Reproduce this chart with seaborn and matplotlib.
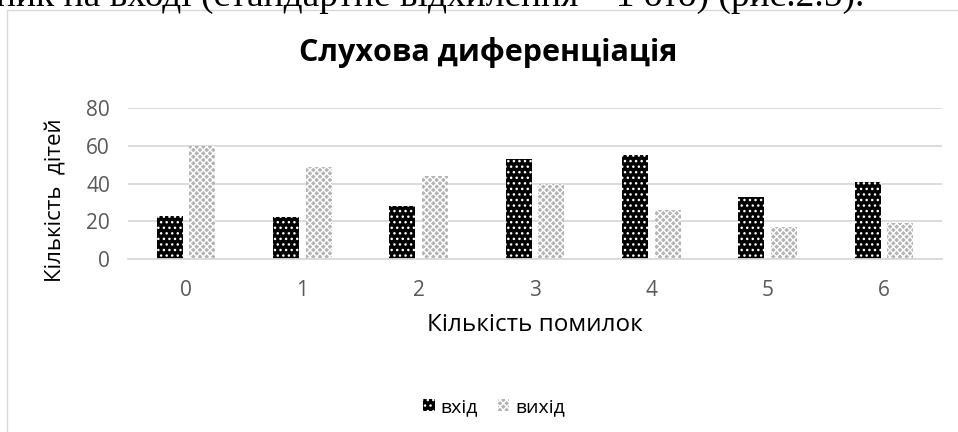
import matplotlib
matplotlib.use("Agg")
import matplotlib.pyplot as plt
from matplotlib.patches import Patch, Rectangle
import seaborn as sns
import pandas as pd

# ---- data ----
categories = ["0", "1", "2", "3", "4", "5", "6"]
vhid = [23, 22, 28, 53, 55, 33, 41]
vyhid = [60, 49, 44, 40, 26, 17, 19]
series_names = ["вхід", "вихід"]
title = "Слухова диференціація"
xlabel = "Кількість помилок"
ylabel = "Кількість  дітей"
yticks = [0, 20, 40, 60, 80]
header_text = "ник на вході (стандартне відхилення – 1 ото) (рис.2.5)."

df = pd.DataFrame({
    "cat": categories * 2,
    "val": vhid + vyhid,
    "series": [series_names[0]] * len(categories) + [series_names[1]] * len(categories),
})

sns.set_theme(style="white")
plt.rcParams["font.family"] = ["Open Sans", "DejaVu Sans"]
plt.rcParams["hatch.linewidth"] = 1.0

W, H = 958, 432
fig = plt.figure(figsize=(W / 100, H / 100), dpi=100)
ax = fig.add_axes([128 / W, 1 - 259 / H, (942 - 128) / W, (259 - 108) / H])

BLACK = "#000000"
GREY = "#b4b4b4"
sns.barplot(data=df, x="cat", y="val", hue="series", order=categories,
            hue_order=series_names, palette=[BLACK, GREY], width=0.56, gap=0.2,
            legend=False, ax=ax, saturation=1)

styles = {0: dict(fc=BLACK, ec="white", hatch="..."),
          1: dict(fc=GREY, ec="white", hatch="xxxxx")}
n = len(categories)
for i, p in enumerate(ax.patches[: 2 * n]):
    s = styles[i // n]
    p.set_facecolor(s["fc"])
    p.set_edgecolor(s["ec"])
    p.set_hatch(s["hatch"])
    p.set_linewidth(0)

ax.set_ylim(0, 80)
ax.set_yticks(yticks)
ax.set_xlim(-0.5, len(categories) - 0.5)
ax.yaxis.grid(True, color="#d9d9d9", linewidth=1.3)
ax.set_axisbelow(True)
for sp in ["top", "right", "left"]:
    ax.spines[sp].set_visible(False)
ax.spines["bottom"].set_color("#d9d9d9")
ax.spines["bottom"].set_linewidth(1.3)
ax.tick_params(axis="both", length=0, labelsize=15, labelcolor="#595959")
ax.tick_params(axis="y", pad=13)
ax.tick_params(axis="x", pad=15)

ax.set_xlabel(xlabel, fontsize=17.5, color="#000000", labelpad=9)
ax.set_ylabel("")
fig.text(56 / W, 1 - 200 / H, ylabel, rotation=90, ha="center", va="center",
         fontsize=16, color="#000000")

fig.text(488 / W, 1 - 53 / H, title, ha="center", va="center", fontsize=22,
         fontweight="bold", color="#000000")

handles = [Patch(facecolor=BLACK, edgecolor="white", hatch="...", linewidth=0),
           Patch(facecolor=GREY, edgecolor="white", hatch="xxxxx", linewidth=0)]
fig.legend(handles, series_names, loc="center", bbox_to_anchor=(494 / W, 1 - 407 / H),
           ncol=2, frameon=False, fontsize=14, handlelength=0.6, handleheight=0.6,
           handletextpad=0.3, columnspacing=1.0, labelcolor="#000000")

# chart area border (partially visible)
fig.add_artist(Rectangle((7 / W, -0.1), 1.2, 1 - 10 / H + 0.1, transform=fig.transFigure,
                         fill=False, edgecolor="#d9d9d9", linewidth=1.0))

# cropped document text above the chart
fig.text(-4 / W, 1 - 6 / H, header_text, ha="left", va="baseline", fontsize=27,
         family="Liberation Serif", color="#000000")

fig.savefig("out.png", dpi=100)
